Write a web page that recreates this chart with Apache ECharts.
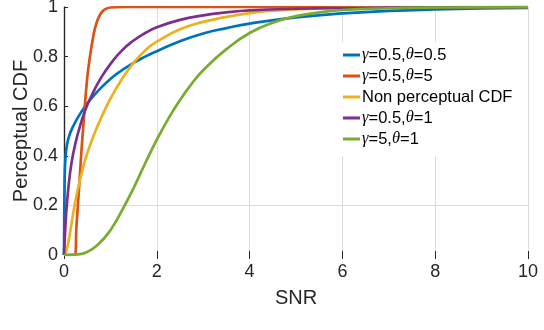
<!DOCTYPE html>
<html>
<head>
<meta charset="utf-8">
<script src="https://cdn.jsdelivr.net/npm/echarts@6/dist/echarts.min.js"></script>
<style>
  html, body { margin: 0; padding: 0; background: #fff; }
  #chart { width: 544px; height: 330px; }
</style>
</head>
<body>
<div id="chart"></div>
<script>
  // values
  var xTicks = [0, 2, 4, 6, 8, 10]
  var yTicks = [0, 0.2, 0.4, 0.6, 0.8, 1]

  var blueX = [0, 0.005, 0.01, 0.02, 0.04, 0.07, 0.12, 0.2, 0.3, 0.42, 0.56, 0.75, 1.0, 1.25, 1.5, 1.75, 2.0, 2.5, 3.0, 3.5, 4.0, 5.0, 6.0, 7.0, 8.0, 9.0, 10]
  var blueY = [0, 0.14, 0.25, 0.35, 0.41, 0.45, 0.485, 0.52, 0.555, 0.59, 0.625, 0.665, 0.71, 0.745, 0.775, 0.8, 0.822, 0.862, 0.893, 0.915, 0.933, 0.958, 0.974, 0.984, 0.99, 0.994, 0.996]

  var orangeX = [0, 0.23, 0.27, 0.31, 0.345, 0.38, 0.42, 0.47, 0.51, 0.56, 0.63, 0.7, 0.78, 0.88, 1.0, 1.3, 2, 10]
  var orangeY = [0, 0, 0.12, 0.23, 0.33, 0.43, 0.53, 0.65, 0.73, 0.8, 0.88, 0.935, 0.97, 0.99, 0.998, 1, 1, 1]

  var yellowX = [0.02, 0.08, 0.13, 0.2, 0.27, 0.38, 0.5, 0.7, 0.88, 1.0, 1.25, 1.5, 1.75, 2.0, 2.5, 3.0, 3.5, 4.0, 4.5, 5, 6, 8, 10]
  var yellowY = [0, 0.04, 0.09, 0.17, 0.24, 0.33, 0.41, 0.51, 0.585, 0.63, 0.71, 0.775, 0.825, 0.86, 0.91, 0.94, 0.96, 0.975, 0.985, 0.99, 0.996, 0.999, 1]

  var purpleX = [0, 0.02, 0.06, 0.13, 0.2, 0.3, 0.45, 0.6, 0.8, 1.0, 1.25, 1.5, 1.75, 2.0, 2.5, 3.0, 3.5, 4.0, 5.0, 6, 8, 10]
  var purpleY = [0, 0.08, 0.2, 0.33, 0.41, 0.49, 0.58, 0.645, 0.715, 0.77, 0.825, 0.865, 0.895, 0.918, 0.948, 0.966, 0.978, 0.986, 0.993, 0.996, 0.999, 1]

  var greenX = [0, 0.25, 0.5, 0.75, 1.0, 1.25, 1.5, 1.75, 2.0, 2.25, 2.5, 2.75, 3.0, 3.5, 4.0, 4.5, 5, 5.5, 6, 7, 8, 10]
  var greenY = [0, 0.002, 0.012, 0.045, 0.1, 0.18, 0.27, 0.37, 0.465, 0.55, 0.625, 0.69, 0.745, 0.83, 0.895, 0.937, 0.963, 0.978, 0.988, 0.995, 0.998, 1]

  var names = ['γ=0.5,θ=0.5', 'γ=0.5,θ=5', 'Non perceptual CDF', 'γ=0.5,θ=1', 'γ=5,θ=1']
  var colors = ['#0072BD', '#D95319', '#EDB120', '#7E2F8E', '#77AC30']
  var xs = [blueX, orangeX, yellowX, purpleX, greenX]
  var ys = [blueY, orangeY, yellowY, purpleY, greenY]

  function pairs(a, b) {
    return a.map(function (v, i) { return [v, b[i]] })
  }

  var font = 'Liberation Sans, Arial, sans-serif'
  var ink = '#262626'
  var chart = echarts.init(document.getElementById('chart'))

  var series = names.map(function (n, i) {
    return {
      name: n,
      type: 'line',
      data: pairs(xs[i], ys[i]),
      showSymbol: false,
      smooth: 0.5,
      lineStyle: { width: 2.7, color: colors[i] },
      itemStyle: { color: colors[i] },
      z: 3 + i
    }
  })

  chart.setOption({
    animation: false,
    textStyle: { fontFamily: font },
    grid: { left: 64, right: 16, top: 7, bottom: 75, outerBoundsMode: 'none' },
    legend: {
      orient: 'vertical',
      left: 333,
      top: 42,
      z: 1,
      padding: [4, 10, 8, 10],
      backgroundColor: '#fff',
      itemWidth: 17,
      itemHeight: 3,
      itemGap: 3,
      icon: 'rect',
      data: names,
      formatter: function (n) {
        return n.replace(/γ/g, '{g|γ}').replace(/θ/g, '{g|θ}')
      },
      textStyle: {
        fontFamily: font,
        fontSize: 16.5,
        color: '#000',
        lineHeight: 18,
        padding: [0, 0, 0, -3],
        rich: {
          g: { fontFamily: 'Liberation Serif, serif', fontStyle: 'italic', fontSize: 16.5, color: '#000' }
        }
      }
    },
    xAxis: [{
      type: 'value',
      min: 0,
      max: 10,
      interval: 2,
      name: 'SNR',
      nameLocation: 'middle',
      nameGap: 33,
      nameMoveOverlap: false,
      nameTextStyle: { fontSize: 20, color: ink, fontFamily: font },
      axisLine: { show: false },
      axisTick: { show: true, inside: true, length: 4, lineStyle: { color: ink } },
      axisLabel: { fontSize: 18, color: ink, margin: 8, fontFamily: font },
      splitLine: { show: true, lineStyle: { color: '#dcdcdc', width: 1 } }
    }, {
      type: 'value',
      position: 'top',
      min: 0,
      max: 10,
      interval: 2,
      axisLine: { show: false },
      axisTick: { show: true, inside: true, length: 4, lineStyle: { color: ink } },
      axisLabel: { show: false },
      splitLine: { show: false }
    }],
    yAxis: [{
      type: 'value',
      min: 0,
      max: 1,
      interval: 0.2,
      name: 'Perceptual CDF',
      nameLocation: 'middle',
      nameGap: 33,
      nameMoveOverlap: false,
      nameTextStyle: { fontSize: 20, color: ink, fontFamily: font },
      axisLine: { show: true, lineStyle: { color: ink, width: 1.2 } },
      axisTick: { show: true, inside: true, length: 4, lineStyle: { color: ink } },
      axisLabel: {
        fontSize: 18, color: ink, margin: 6, fontFamily: font,
        formatter: function (v) { return yTicks.indexOf(+v.toFixed(1)) >= 0 ? String(+v.toFixed(1)) : '' }
      },
      splitLine: {
        show: true,
        lineStyle: { color: ['rgba(0,0,0,0)', '#dcdcdc', 'rgba(0,0,0,0)', 'rgba(0,0,0,0)', 'rgba(0,0,0,0)', 'rgba(0,0,0,0)'], width: 1 }
      }
    }, {
      type: 'value',
      position: 'right',
      min: 0,
      max: 1,
      interval: 0.2,
      axisLine: { show: true, lineStyle: { color: ink, width: 1.2 } },
      axisTick: { show: false },
      axisLabel: { show: false },
      splitLine: { show: false }
    }],
    series: series
  })
</script>
</body>
</html>
